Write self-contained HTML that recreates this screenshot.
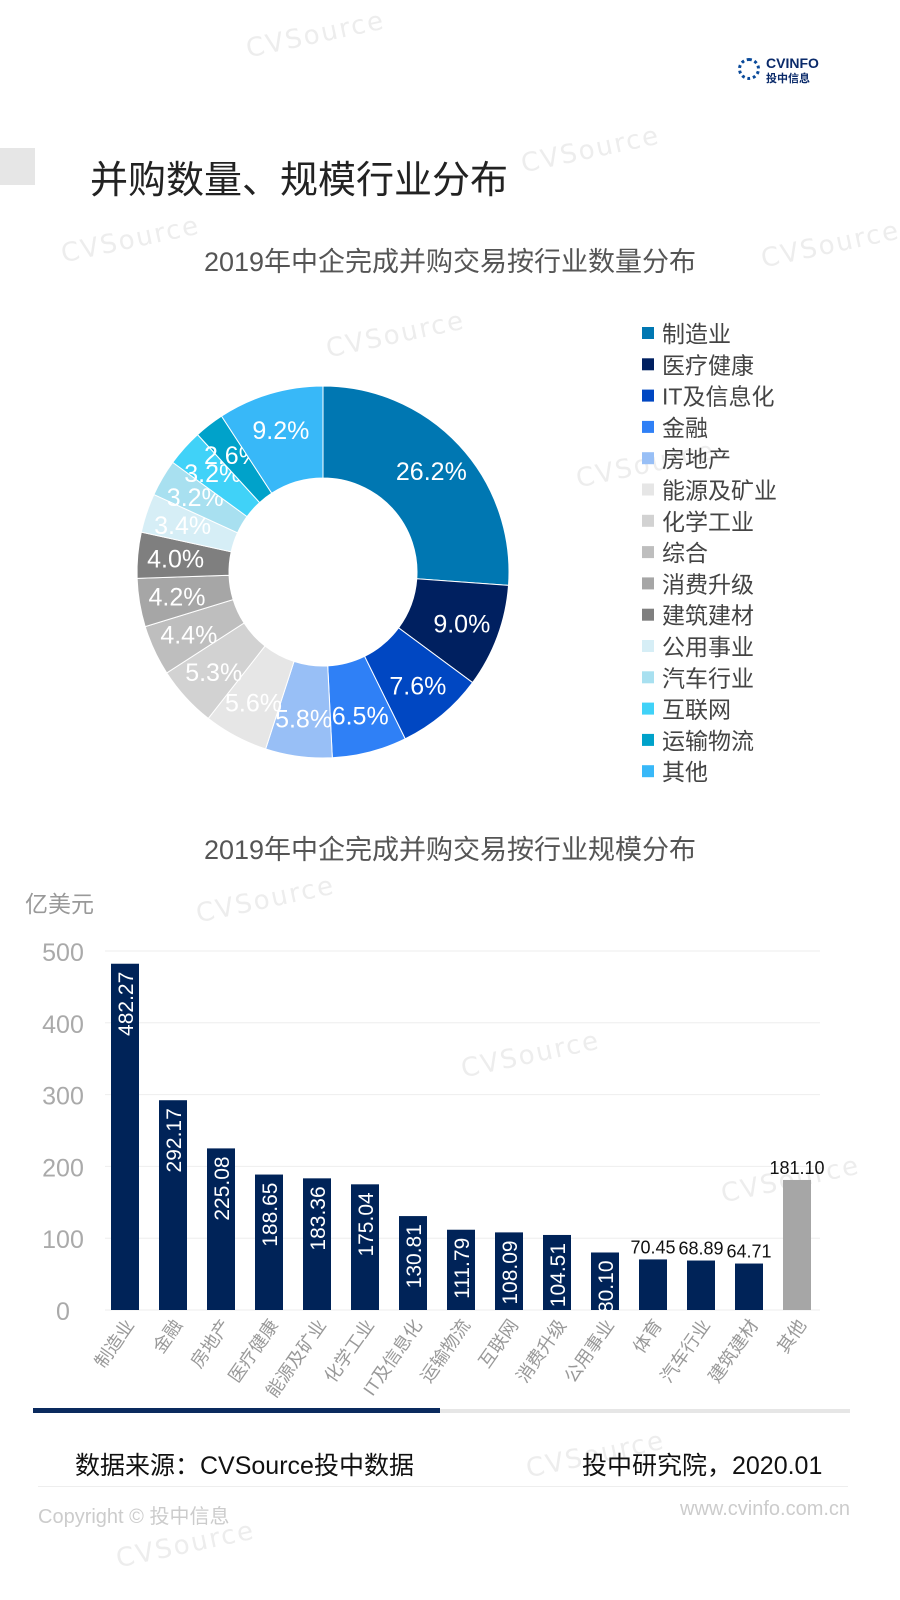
<!DOCTYPE html>
<html><head><meta charset="utf-8"><style>
body{margin:0;width:900px;height:1600px;background:#fff;font-family:"Liberation Sans","Noto Sans CJK SC",sans-serif;overflow:hidden;position:relative}
.a{position:absolute;white-space:nowrap}
.wm{position:absolute;color:#ededed;font-size:26px;transform:rotate(-12deg);letter-spacing:2px;font-family:"DejaVu Sans",sans-serif}
</style></head><body>
<div class="wm" style="left:245px;top:20px">CVSource</div>
<div class="wm" style="left:520px;top:135px">CVSource</div>
<div class="wm" style="left:60px;top:225px">CVSource</div>
<div class="wm" style="left:760px;top:230px">CVSource</div>
<div class="wm" style="left:325px;top:320px">CVSource</div>
<div class="wm" style="left:575px;top:450px">CVSource</div>
<div class="wm" style="left:195px;top:885px">CVSource</div>
<div class="wm" style="left:460px;top:1040px">CVSource</div>
<div class="wm" style="left:720px;top:1165px">CVSource</div>
<div class="wm" style="left:525px;top:1440px">CVSource</div>
<div class="wm" style="left:115px;top:1530px">CVSource</div>
<div class="a" style="left:738px;top:58px;width:22px;height:22px;border-radius:50%;border:3px dotted #0a4a9a;box-sizing:border-box"></div>
<div class="a" style="left:766px;top:56px;font-size:14px;color:#0a2a6a;font-weight:bold;line-height:14px">CVINFO<br><span style="font-size:11px">投中信息</span></div>
<div class="a" style="left:0;top:148px;width:35px;height:37px;background:#e6e6e6"></div>
<div class="a" style="left:90px;top:149px;font-size:38px;color:#222">并购数量、规模行业分布</div>
<div class="a" style="left:0;width:900px;text-align:center;top:240px;font-size:27px;color:#555">2019年中企完成并购交易按行业数量分布</div>
<svg class="a" style="left:0;top:0" width="900" height="1600" id="s"></svg>
<div class="a" style="left:0;width:900px;text-align:center;top:828px;font-size:27px;color:#555">2019年中企完成并购交易按行业规模分布</div>
<div class="a" style="left:25px;top:885px;font-size:23px;color:#999">亿美元</div>
<div class="a" style="left:33px;top:1408px;width:407px;height:5px;background:#0a2a5e"></div>
<div class="a" style="left:440px;top:1409px;width:410px;height:4px;background:#e6e6e6"></div>
<div class="a" style="left:75px;top:1446px;font-size:25px;color:#111">数据来源：CVSource投中数据</div>
<div class="a" style="left:582px;top:1446px;font-size:25px;color:#111">投中研究院，2020.01</div>
<div class="a" style="left:38px;top:1486px;width:810px;height:1px;background:#eee"></div>
<div class="a" style="left:38px;top:1500px;font-size:20px;color:#ccc">Copyright © 投中信息</div>
<div class="a" style="left:680px;top:1498px;font-size:20px;color:#ccc">www.cvinfo.com.cn</div>
<script>
var s=document.getElementById('s'),h='';
var v=[26.2,9.0,7.6,6.5,5.8,5.6,5.3,4.4,4.2,4.0,3.4,3.2,3.2,2.6,9.2];
var c=['#0077b2','#002060','#0047c2','#2f80f6','#98bff6','#e6e6e6','#d2d2d2','#bebebe','#a6a6a6','#7f7f7f','#d6eef6','#a8e0f0','#40d2f8','#00a2ca','#38b8f8'];
var n=['制造业','医疗健康','IT及信息化','金融','房地产','能源及矿业','化学工业','综合','消费升级','建筑建材','公用事业','汽车行业','互联网','运输物流','其他'];
var cx=323,cy=572,R=186,r=94,t=0,T=v.reduce((a,b)=>a+b);
function p(a,rr){return [cx+rr*Math.sin(a),cy-rr*Math.cos(a)]}
v.forEach(function(x,i){var a0=t/T*2*Math.PI;t+=x;var a1=t/T*2*Math.PI,l=(a1-a0)>Math.PI?1:0;
var A=p(a0,R),B=p(a1,R),C=p(a1,r),D=p(a0,r);
h+='<path d="M'+A+'A'+R+','+R+' 0 '+l+' 1 '+B+'L'+C+'A'+r+','+r+' 0 '+l+' 0 '+D+'Z" fill="'+c[i]+'" stroke="#fff" stroke-width="1"/>';
var m=p((a0+a1)/2,(R+r)/2+8);
h+='<text x="'+m[0]+'" y="'+(m[1]+9)+'" text-anchor="middle" font-size="25" fill="#fff">'+x.toFixed(1)+'%</text>';
h+='<rect x="642" y="'+(327+i*31.3)+'" width="12" height="12" fill="'+c[i]+'"/><text x="662" y="'+(342+i*31.3)+'" font-size="23" fill="#444">'+n[i]+'</text>';});
var b=[482.27,292.17,225.08,188.65,183.36,175.04,130.81,111.79,108.09,104.51,80.10,70.45,68.89,64.71,181.10];
var bn=['制造业','金融','房地产','医疗健康','能源及矿业','化学工业','IT及信息化','运输物流','互联网','消费升级','公用事业','体育','汽车行业','建筑建材','其他'];
var y0=1310,k=0.718;
for(var g=0;g<=5;g++){var y=y0-g*100*k;h+='<line x1="105" x2="820" y1="'+y+'" y2="'+y+'" stroke="#eee"/><text x="63" y="'+(y+10)+'" text-anchor="middle" font-size="25" fill="#aaa">'+g*100+'</text>';}
b.forEach(function(x,i){var xc=125+i*48.0,hh=x*k,y=y0-hh;
h+='<rect x="'+(xc-14)+'" y="'+y+'" width="28" height="'+hh+'" fill="'+(i==14?'#a6a6a6':'#002358')+'"/>';
if(i<11){h+='<text transform="translate('+(xc+8)+','+(y+8)+') rotate(-90)" text-anchor="end" font-size="21" fill="#fff">'+x.toFixed(2)+'</text>';}
else h+='<text x="'+xc+'" y="'+(y-6)+'" text-anchor="middle" font-size="18" fill="#111">'+x.toFixed(2)+'</text>';
h+='<text transform="translate('+(xc+10)+',1325) rotate(-55)" text-anchor="end" font-size="18" fill="#999">'+bn[i]+'</text>';});
s.innerHTML=h;
</script>
</body></html>
